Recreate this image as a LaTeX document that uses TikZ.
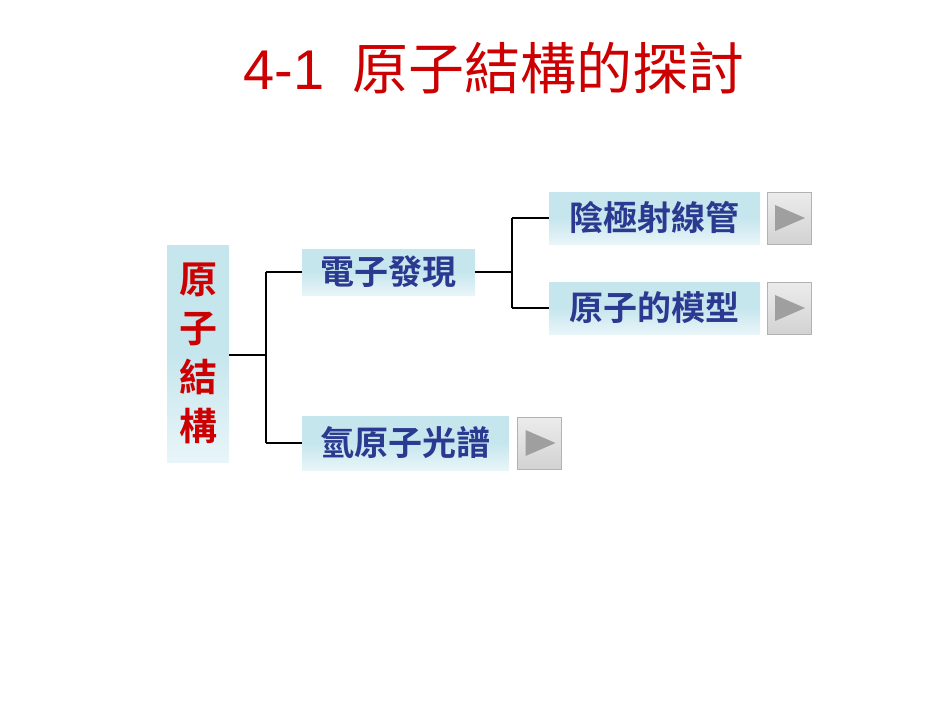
\documentclass[tikz,border=0pt]{standalone}
\usepackage{fontspec}
\newfontfamily\cjk{Noto Sans CJK TC}
\newfontfamily\cjkb{Noto Sans CJK TC Bold}
\setmainfont{Liberation Sans}
\definecolor{tblue}{HTML}{2B3990}
\definecolor{tred}{HTML}{CC0000}
\definecolor{boxc}{HTML}{C6E6EE}
\tikzset{
 box/.style={inner sep=0pt, top color=boxc, bottom color=boxc!40!white, middle color=boxc, font=\cjkb\fontsize{34}{34}\selectfont, text=tblue},
 btn/.style={inner sep=0pt, top color=gray!15, bottom color=gray!35, draw=gray!60, line width=0.8pt},
 conn/.style={line width=1.3pt, black}
}
\begin{document}
\begin{tikzpicture}[x=1pt,y=-1pt]
\useasboundingbox (0,0) rectangle (950,713);
\node[text=tred, font=\fontsize{56}{56}\selectfont] (title) at (494,68) {4-1\hspace{0.5em}{\cjk 原子結構的探討}};
\node[box, minimum width=62pt, minimum height=217pt, text=tred, font=\cjkb\fontsize{38}{49}\selectfont, align=center] (root) at (198,353.5) {原\\子\\結\\構};
\node[box, minimum width=173pt, minimum height=46pt] (e) at (388.5,272) {電子發現};
\node[box, minimum width=211pt, minimum height=52pt] (c) at (654.5,218) {陰極射線管};
\node[box, minimum width=211pt, minimum height=52pt] (m) at (654.5,308) {原子的模型};
\node[box, minimum width=207pt, minimum height=54pt] (h) at (405.5,443) {氫原子光譜};
\foreach \n/\x/\y in {b1/789/218, b2/789/308, b3/539.5/443}{
  \node[btn, minimum width=44pt, minimum height=52pt] (\n) at (\x,\y) {};
  \fill[gray!75] ([xshift=-14pt,yshift=-13pt]\n.center) -- ([xshift=16pt]\n.center) -- ([xshift=-14pt,yshift=13pt]\n.center) -- cycle;
}
\coordinate (j1) at (266,355);
\coordinate (j2) at (512,267);
\draw[conn] (root.east |- j1) -- (j1) (j1 |- e.west) -- (j1 |- h.west);
\draw[conn] (j1 |- e.west) -- (e.west);
\draw[conn] (j1 |- h.west) -- (h.west);
\draw[conn] (e.east) -- (j2 |- e.east);
\draw[conn] (j2 |- c.west) -- (j2 |- m.west);
\draw[conn] (j2 |- c.west) -- (c.west);
\draw[conn] (j2 |- m.west) -- (m.west);
\end{tikzpicture}
\end{document}
